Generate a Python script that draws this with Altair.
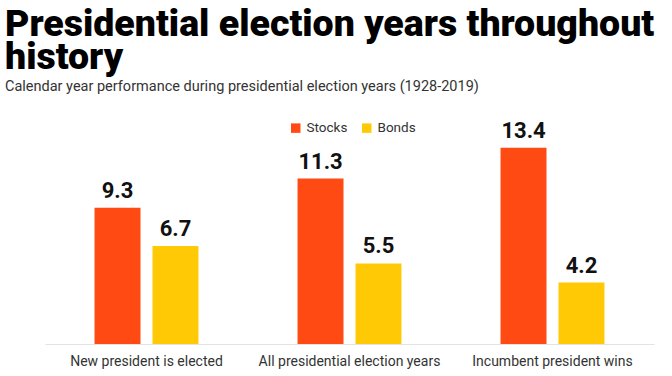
import altair as alt
import pandas as pd

categories = ["New president is elected", "All presidential election years", "Incumbent president wins"]
stocks = [9.3, 11.3, 13.4]
bonds = [6.7, 5.5, 4.2]
series = ["Stocks", "Bonds"]
colors = ["#FF4A14", "#FFC905"]

rows = []
for c, s, b in zip(categories, stocks, bonds):
    rows.append({"category": c, "series": "Stocks", "value": s})
    rows.append({"category": c, "series": "Bonds", "value": b})
df = pd.DataFrame(rows)

x = alt.X("category:N", sort=categories, title=None,
          scale=alt.Scale(paddingInner=0.488, paddingOuter=0.244),
          axis=alt.Axis(labelAngle=0, ticks=False, domainColor="#E3E3E3", domainWidth=1,
                        labelFont="Roboto", labelFontSize=14, labelColor="#333333",
                        labelPadding=10, labelLimit=400, grid=False))
xo = alt.XOffset("series:N", sort=series, scale=alt.Scale(paddingInner=0.207, paddingOuter=0))
y = alt.Y("value:Q", scale=alt.Scale(domain=[0, 14]), axis=None)

bars = alt.Chart(df).mark_bar().encode(
    x=x, xOffset=xo, y=y,
    color=alt.Color("series:N", sort=series, scale=alt.Scale(domain=series, range=colors),
                    legend=alt.Legend(title=None, orient="none", direction="horizontal",
                                      legendX=244, legendY=-18, symbolType="square",
                                      symbolSize=90, symbolStrokeWidth=0, labelFont="Roboto",
                                      labelFontSize=13.5, labelColor="#333333",
                                      columnPadding=12, labelOffset=4))
)
labels = alt.Chart(df).mark_text(baseline="bottom", dy=-5, font="Roboto", fontWeight="bold",
                                 fontSize=22, color="#111111").encode(
    x=alt.X("category:N", sort=categories), xOffset=alt.XOffset("series:N", sort=series), y="value:Q",
    text=alt.Text("value:Q", format=".1f")
)

chart = alt.layer(bars, labels).properties(
    width=609, height=205,
    title=alt.TitleParams(
        text=["Presidential election years throughout", "history"],
        subtitle="Calendar year performance during presidential election years (1928-2019)",
        anchor="start", orient="top", dx=-40, font="Roboto", fontWeight=900, fontSize=37.5,
        lineHeight=33, color="#000000", subtitleFont="Roboto", subtitleFontSize=14.5,
        subtitleColor="#333333", subtitlePadding=4, offset=26
    ),
    autosize=alt.AutoSizeParams(type="none"),
    padding={"left": 45, "top": 139, "right": 18, "bottom": 32}
).configure_view(stroke=None)

chart.save("out.html", embed_options={"renderer": "svg", "actions": False})
